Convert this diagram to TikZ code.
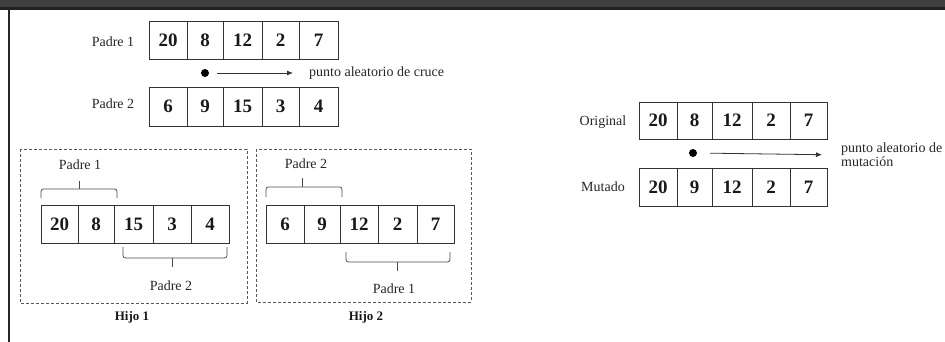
\documentclass[tikz,border=0pt]{standalone}
\usepackage{fontspec}
\setmainfont{Liberation Serif}
\usetikzlibrary{arrows.meta}
\newcommand\mkcells[3]{%
  \foreach \xa/\xb/\v/\n in {#3}{%
    \node[cell, minimum width={(\xb-\xa)*1pt}, minimum height={(#2-#1)*1pt}] (\n) at ({(\xa+\xb)/2},{(#1+#2)/2}) {\v};
  }}
\begin{document}
\begin{tikzpicture}[x=1pt,y=-1pt,
  cell/.style={draw=black!80, line width=0.9pt, inner sep=0pt, outer sep=0pt,
    font=\fontsize{19}{19}\selectfont\bfseries, text=black!90},
  lbl/.style={inner sep=0pt, font=\fontsize{14}{14}\selectfont, text=black!85},
  hijo/.style={inner sep=0pt, font=\fontsize{13}{14}\selectfont\bfseries, text=black!90},
  grp/.style={draw=black!65, line width=0.9pt, dash pattern=on 3pt off 2pt},
  brk/.style={draw=black!70, line width=0.8pt, rounded corners=2.5pt},
  dot/.style={circle, fill=black, inner sep=0pt, minimum size=8pt},
  arr/.style={draw=black!80, line width=0.8pt, -{Latex[length=6pt,width=5pt]}}
]
\useasboundingbox (0,0) rectangle (945,342);
% header bar and left rule
\fill[black!75] (0,0) rectangle (945,10);
\fill[black!87] (0,7) rectangle (945,10);
\fill[black!85] (7.5,10) rectangle (9.5,342);

% crossover parents
\node[lbl] (lp1) at (113,42) {Padre 1};
\node[lbl] (lp2) at (113,104) {Padre 2};
\mkcells{21}{59}{149/187/20/p1a, 187/223/8/p1b, 223/262/12/p1c, 262/299/2/p1d, 299/338/7/p1e}
\mkcells{87}{126}{149/187/6/p2a, 187/223/9/p2b, 223/262/15/p2c, 262/299/3/p2d, 299/338/4/p2e}
\node[dot] (d1) at (205,73) {};
\node[lbl, anchor=west] (t1) at (309,73) {punto aleatorio de cruce};
\draw[arr, shorten <=8pt, shorten >=16pt] (d1.east) -- (t1.west);

% Hijo 1
\draw[grp] (20,149) rectangle (247,303);
\mkcells{205}{243}{41/78/20/h1a, 78/114/8/h1b, 114/153/15/h1c, 153/191/3/h1d, 191/229/4/h1e}
\draw[brk] (41,198) -- (41,189) -- (117,189) -- (117,198);
\draw[brk] (79,189) -- (79,181);
\node[lbl] (h1l1) at (80,165) {Padre 1};
\draw[brk] (123,247) -- (123,258) -- (227,258) -- (227,247);
\draw[brk] (172,258) -- (172,267);
\node[lbl] (h1l2) at (171,286) {Padre 2};
\node[hijo] (hj1) at (132,317) {Hijo 1};

% Hijo 2
\draw[grp] (256,149) rectangle (471,302);
\mkcells{205}{243}{266/304/6/h2a, 304/340/9/h2b, 340/378/12/h2c, 378/417/2/h2d, 417/454/7/h2e}
\draw[brk] (266,197) -- (266,187) -- (342,187) -- (342,197);
\draw[brk] (302,187) -- (302,178);
\node[lbl] (h2l1) at (306,164) {Padre 2};
\draw[brk] (346,252) -- (346,262) -- (450,262) -- (450,252);
\draw[brk] (397,262) -- (397,271);
\node[lbl] (h2l2) at (394,289) {Padre 1};
\node[hijo] (hj2) at (366,317) {Hijo 2};

% mutation
\node[lbl] (lo) at (603,122) {Original};
\node[lbl] (lm) at (603,187) {Mutado};
\mkcells{102}{139}{639/677/20/oa, 677/712/8/ob, 712/752/12/oc, 752/790/2/od, 790/827/7/oe}
\mkcells{168}{206}{639/677/20/ma, 677/712/9/mb, 712/752/12/mc, 752/790/2/md, 790/827/7/me}
\node[dot] (d2) at (693,153) {};
\node[lbl, anchor=west, align=left] (t2) at (841,155) {punto aleatorio de\\mutación};
\draw[arr, shorten <=13pt, shorten >=19pt] (d2.east) -- (t2.west);
\end{tikzpicture}
\end{document}
